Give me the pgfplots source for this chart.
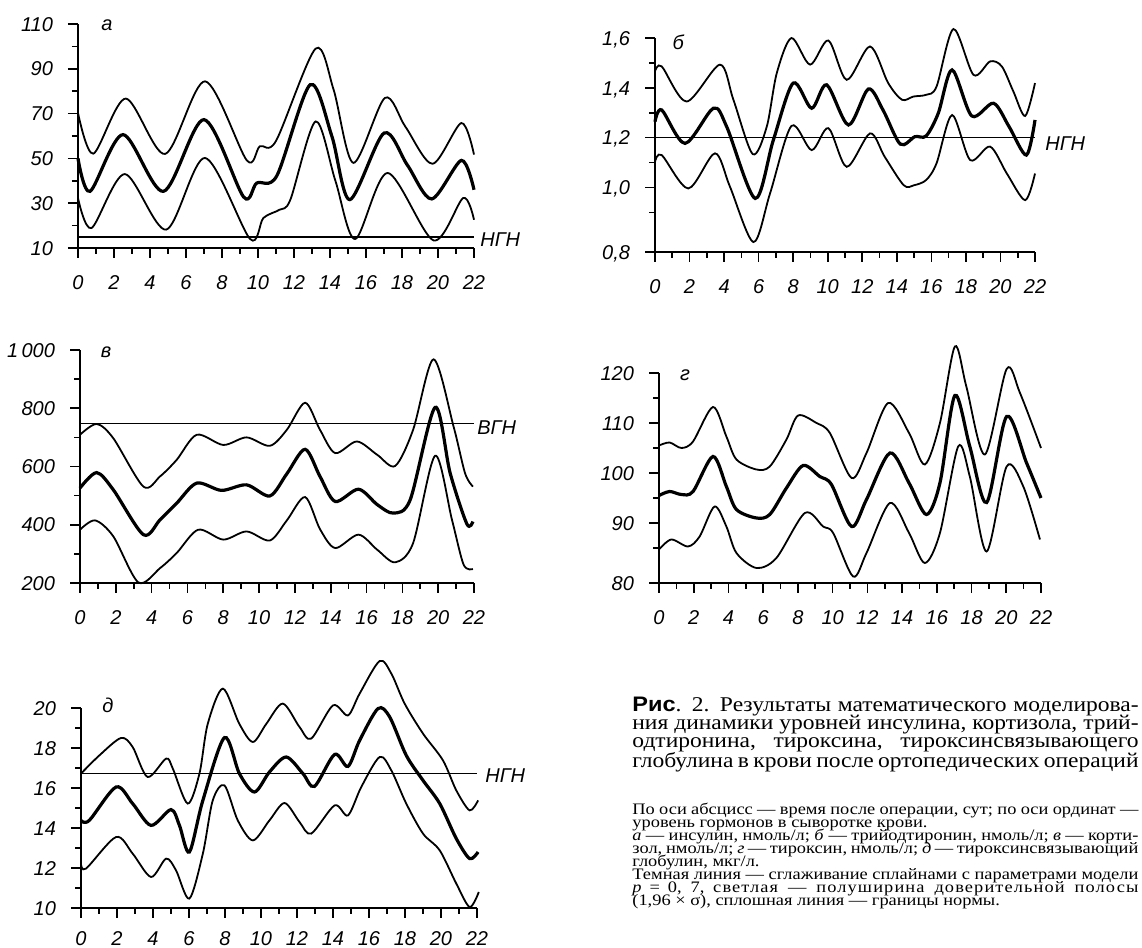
\documentclass[border=0pt]{standalone}
\usepackage{fontspec}
\setmainfont{Liberation Serif}
\newfontfamily\drawfont{Liberation Sans}
\usepackage{graphicx}
\usepackage{pgfplots}
\pgfplotsset{compat=1.18}

\tikzset{tag/.style={font=\drawfont\itshape\fontsize{10}{12}\selectfont, inner sep=0}}

% common look of the five panels
\pgfplotsset{
  panel/.style={
    scale only axis, clip=false, anchor=south west,
    axis x line*=bottom, axis y line*=left,
    x axis line style={-, line width=1pt},
    y axis line style={-, line width=1pt},
    tick align=outside,
    major tick style={black, line width=0.8pt},
    minor tick style={black, line width=0.8pt},
    major tick length=5pt, minor tick length=3pt,
    xmin=0, xmax=22,
    xtick={0,2,...,22}, minor xtick={1,3,...,21},
    tick label style={font=\drawfont\itshape\fontsize{10}{12}\selectfont,
      text height=7.2pt, text depth=0pt},
    /pgf/number format/assume math mode=true,
    xticklabel style={anchor=north, yshift=-5pt},
    yticklabel style={anchor=east, xshift=-4pt},
  },
  mid/.style={black, line width=1.6pt, smooth, tension=0.5, no marks},
  band/.style={black, line width=0.9pt, smooth, tension=0.5, no marks},
  norm/.style={black, line width=0.8pt, no marks},
}

% one caption line, stretched to the column
\newcommand\capline[4]{%
  \node[anchor=base west, inner sep=0, font=\fontsize{#1}{#1}\selectfont] at (316pt,#2)
    {\scalebox{#3}[1]{#4}};}

\begin{document}
\begin{tikzpicture}

% ---- а: insulin
\begin{axis}[panel, at={(39pt,350pt)}, width=198pt, height=112pt,
  ymin=10, ymax=110, ytick={10,30,...,110}, minor ytick={20,40,...,100}]
  \addplot[norm] coordinates {(0,15) (22,15)};
  \addplot[band] coordinates {(0,70.3) (0.85,52.1) (2.65,76.7) (4.84,52) (7.06,84.4) (9.38,49.1) (10.1,55.4) (11.0,57.8) (13.2,99) (14.2,80.7) (15.3,48) (17.05,77) (18.2,64) (19.7,47.6) (21.3,65.8) (22,51.7)};
  \addplot[mid] coordinates {(0,50) (0.67,35.3) (2.5,60.6) (4.75,35.3) (7.0,67.3) (9.2,32.8) (9.93,39) (11.05,42.3) (12.9,82.9) (14.1,60) (15.1,31.6) (17.0,61.3) (18.3,47) (19.65,31.9) (21.3,49.1) (22,36)};
  \addplot[band] coordinates {(0,32.3) (0.75,18.9) (2.6,43) (4.9,18.2) (7.06,50.2) (9.56,14) (10.3,23.4) (11.2,27.1) (11.8,31.6) (13.2,66.5) (14.3,40) (15.4,14) (17.2,43.5) (19.75,13.4) (21.4,32.3) (22,22.6)};
  \node[tag, anchor=west, xshift=3pt, yshift=-1.5pt] at (axis cs:22,15) {НГН};
  \node[tag] at (rel axis cs:0.073,0.996) {а};
\end{axis}

% ---- б: triiodothyronine
\begin{axis}[panel, at={(327.5pt,348pt)}, width=190pt, height=107pt,
  ymin=0.741, ymax=1.6, ytick={0.741,1.0,1.2,1.4,1.6},
  yticklabels={{0,8},{1,0},{1,2},{1,4},{1,6}}, minor ytick={0.9,1.1,1.3,1.5}]
  \addplot[norm] coordinates {(0,1.2) (22,1.2)};
  \addplot[band] coordinates {(0,1.466) (0.39,1.486) (1.83,1.345) (3.76,1.493) (4.54,1.352) (5.66,1.134) (6.47,1.244) (7.05,1.459) (7.9,1.6) (8.98,1.493) (10.04,1.59) (11.1,1.432) (12.45,1.566) (13.5,1.419) (14.3,1.352) (14.96,1.365) (15.7,1.372) (16.3,1.405) (17.28,1.636) (18.44,1.452) (19.4,1.506) (20.08,1.486) (20.75,1.385) (21.43,1.287) (22,1.419)};
  \addplot[mid] coordinates {(0,1.264) (0.39,1.311) (1.74,1.177) (3.38,1.318) (4.15,1.244) (5.8,0.956) (6.85,1.19) (8.0,1.419) (9.07,1.318) (9.94,1.412) (11.2,1.251) (12.35,1.395) (13.2,1.311) (14.2,1.174) (15.05,1.204) (15.7,1.207) (16.4,1.298) (17.2,1.472) (18.34,1.287) (19.6,1.338) (20.5,1.244) (21.5,1.13) (22,1.271)};
  \addplot[band] coordinates {(0,1.103) (0.39,1.13) (1.93,0.996) (3.47,1.137) (4.34,1.003) (5.7,0.781) (6.66,0.976) (7.9,1.247) (9.07,1.15) (10.04,1.238) (11.1,1.083) (12.45,1.217) (13.3,1.123) (14.4,1.009) (15,1.009) (15.7,1.03) (16.3,1.097) (17.2,1.291) (18.25,1.11) (19.4,1.164) (20.37,1.056) (21.43,0.949) (22,1.056)};
  \node[tag, anchor=west, xshift=5pt, yshift=-3pt] at (axis cs:22,1.2) {НГН};
  \node[tag] at (rel axis cs:0.061,0.981) {б};
\end{axis}

% ---- в: cortisol
\begin{axis}[panel, at={(40pt,182.5pt)}, width=197pt, height=116.5pt,
  ymin=200, ymax=1000, ytick={200,400,...,1000},
  yticklabels={200,400,600,800,1\,000}, minor ytick={300,500,700,900}]
  \addplot[norm] coordinates {(0,748) (22,748)};
  \addplot[band] coordinates {(0,709) (0.93,746) (1.86,697) (3.54,531) (4.47,566) (5.4,623) (6.52,709) (8.0,674) (9.3,700) (10.6,671) (11.55,726) (12.57,819) (13.4,726) (14.25,646) (15.46,686) (16.6,640) (17.6,602) (18.6,726) (19.74,968) (20.86,737) (21.5,577) (21.94,531)};
  \addplot[mid] coordinates {(0,526) (0.93,579) (1.86,520) (3.54,366) (4.47,417) (5.4,474) (6.52,543) (7.9,518) (9.3,537) (10.6,499) (11.55,575) (12.57,659) (13.4,566) (14.25,480) (15.55,522) (16.6,469) (17.5,440) (18.44,486) (19.83,803) (20.67,577) (21.6,403) (21.94,411)};
  \addplot[band] coordinates {(0,383) (0.84,415) (1.86,360) (3.26,202) (4.47,251) (5.4,303) (6.6,383) (8.0,349) (9.3,377) (10.6,346) (11.55,415) (12.57,495) (13.4,385) (14.25,320) (15.55,366) (16.6,314) (17.6,271) (18.6,337) (19.83,637) (20.77,417) (21.42,263) (21.94,248)};
  \node[tag, anchor=west, xshift=1.5pt, yshift=-2pt] at (axis cs:22,748) {ВГН};
  \node[tag] at (rel axis cs:0.066,0.991) {в};
\end{axis}

% ---- г: thyroxine
\begin{axis}[panel, at={(329.5pt,182.5pt)}, width=191pt, height=105pt,
  ymin=78, ymax=120, ytick={78,90,100,110,120},
  yticklabels={80,90,100,110,120}, minor ytick={85,95,105,115}]
  \addplot[band] coordinates {(0,105.5) (0.61,106.1) (1.29,105) (1.96,106.3) (3.11,113.2) (3.88,107.3) (4.46,102.7) (5.61,100.7) (6.38,101.3) (7.34,106.7) (8.01,111.5) (9.07,110) (9.84,108) (11.09,99) (11.95,104) (13.2,114) (14.4,108) (15.31,101.7) (16.18,110) (17.04,125.3) (17.7,117.3) (18.77,103.7) (20.02,120.8) (20.79,116) (22,105)};
  \addplot[mid] coordinates {(0,95.5) (0.61,96.3) (1.29,95.7) (1.96,96.3) (3.11,103.3) (3.88,97.3) (4.46,92.7) (5.61,91) (6.38,91.7) (7.34,97) (8.3,101.5) (9.26,99.3) (9.93,97.7) (11.09,89.3) (11.95,94.7) (13.3,104) (14.4,98) (15.4,91.7) (16.18,98) (17.04,115.5) (17.9,105.3) (18.87,94.1) (20.02,111.3) (21.17,102) (22,95)};
  \addplot[band] coordinates {(0,84.7) (0.71,86.7) (1.67,85.3) (2.34,87.3) (3.2,93.3) (3.88,89.3) (4.46,84) (5.61,81) (6.76,83) (8.4,92) (9.45,89.3) (10.03,88) (11.18,79.3) (11.95,84) (13.3,94) (14.4,88) (15.31,82) (16.18,88) (17.23,105.3) (17.9,99.3) (18.87,84.3) (20.02,101.3) (20.98,97.3) (21.94,86.7)};
  \node[tag] at (rel axis cs:0.068,0.99) {г};
\end{axis}

% ---- д: thyroxine-binding globulin
\begin{axis}[panel, at={(40.5pt,20pt)}, width=198pt, height=100pt,
  ymin=10, ymax=20, ytick={10,12,...,20}, minor ytick={11,13,...,19},
  xticklabel style={inner sep=1pt, yshift=-0.5pt}]
  \addplot[norm] coordinates {(0,16.72) (22,16.72)};
  \addplot[band] coordinates {(0,16.72) (1.02,17.63) (2.22,18.5) (2.87,18.05) (3.7,16.55) (4.73,17.47) (5.1,16.97) (5.93,15.22) (6.58,16.72) (7.04,19.2) (7.88,20.97) (8.8,19.2) (9.55,18.3) (10.29,19.2) (11.21,20.22) (12.14,19.05) (12.79,18.47) (14,20.13) (14.83,19.63) (15.48,20.72) (16.59,22.35) (17.24,21.72) (17.98,20.22) (19,18.72) (20.11,17.38) (20.85,15.88) (21.59,14.88) (22.06,15.38)};
  \addplot[mid] coordinates {(0,14.38) (0.46,14.38) (1.95,16.05) (2.87,15.22) (3.89,14.13) (5.0,14.92) (5.47,14.13) (6.02,12.8) (6.77,15.38) (7.97,18.52) (8.8,16.72) (9.64,15.8) (10.47,16.8) (11.4,17.55) (12.33,16.72) (12.97,16.08) (14.09,17.68) (14.83,17.08) (15.48,18.38) (16.5,19.97) (17.15,19.55) (18.07,17.63) (19,16.38) (19.93,15.22) (20.85,13.47) (21.59,12.47) (22.06,12.8)};
  \addplot[band] coordinates {(0,12.22) (0.28,11.97) (1.95,13.55) (2.87,12.72) (3.89,11.55) (4.73,12.47) (5.28,11.88) (6.02,10.47) (6.77,12.72) (7.32,15.38) (7.97,16.13) (8.71,14.38) (9.55,13.38) (10.47,14.38) (11.31,15.25) (12.14,14.3) (12.79,13.72) (14.09,15.13) (14.83,14.63) (15.57,16.05) (16.59,17.55) (17.24,16.88) (18.07,15.22) (19,13.72) (19.93,12.88) (20.85,11.22) (21.59,10.05) (22.1,10.8)};
  \node[tag, anchor=west, xshift=4pt, yshift=-1pt] at (axis cs:22,16.72) {НГН};
  \node[tag] at (rel axis cs:0.068,1.015) {д};
\end{axis}

% ---- caption
\capline{10.5}{118pt}{1.12}{\makebox[226pt][s]{{\drawfont\bfseries Рис}. 2. Результаты математического моделирова-}}
\capline{10.5}{109pt}{1.12}{\makebox[226pt][s]{ния динамики уровней инсулина, кортизола, трий-}}
\capline{10.5}{100pt}{1.12}{\makebox[226pt][s]{одтиронина, тироксина, тироксинсвязывающего}}
\capline{10.5}{90pt}{1.12}{\makebox[226pt][s]{глобулина в крови после ортопедических операций}}
\capline{8}{66.75pt}{1.15}{\makebox[220pt][s]{По оси абсцисс — время после операции, сут; по оси ординат —}}
\capline{8}{60.25pt}{1.15}{уровень гормонов в сыворотке крови.}
\capline{8}{53.75pt}{1.15}{\makebox[220pt][s]{\textit{а} — инсулин, нмоль/л; \textit{б} — трийодтиронин, нмоль/л; \textit{в} — корти-}}
\capline{8}{47.25pt}{1.15}{\makebox[220pt][s]{зол, нмоль/л; \textit{г} — тироксин, нмоль/л; \textit{д} — тироксинсвязывающий}}
\capline{8}{40.75pt}{1.15}{глобулин, мкг/л.}
\capline{8}{34.25pt}{1.15}{\makebox[220pt][s]{Темная линия — сглаживание сплайнами с параметрами модели}}
\capline{8}{27.75pt}{1.15}{\makebox[220pt][s]{\textit{p} = 0, 7, {\addfontfeatures{LetterSpace=6}светлая — полуширина доверительной полосы}}}
\capline{8}{21.25pt}{1.15}{(1,96 × σ), сплошная линия — границы нормы.}

\pgfresetboundingbox
\useasboundingbox (0,0) rectangle (571pt,474pt);
\end{tikzpicture}
\end{document}
